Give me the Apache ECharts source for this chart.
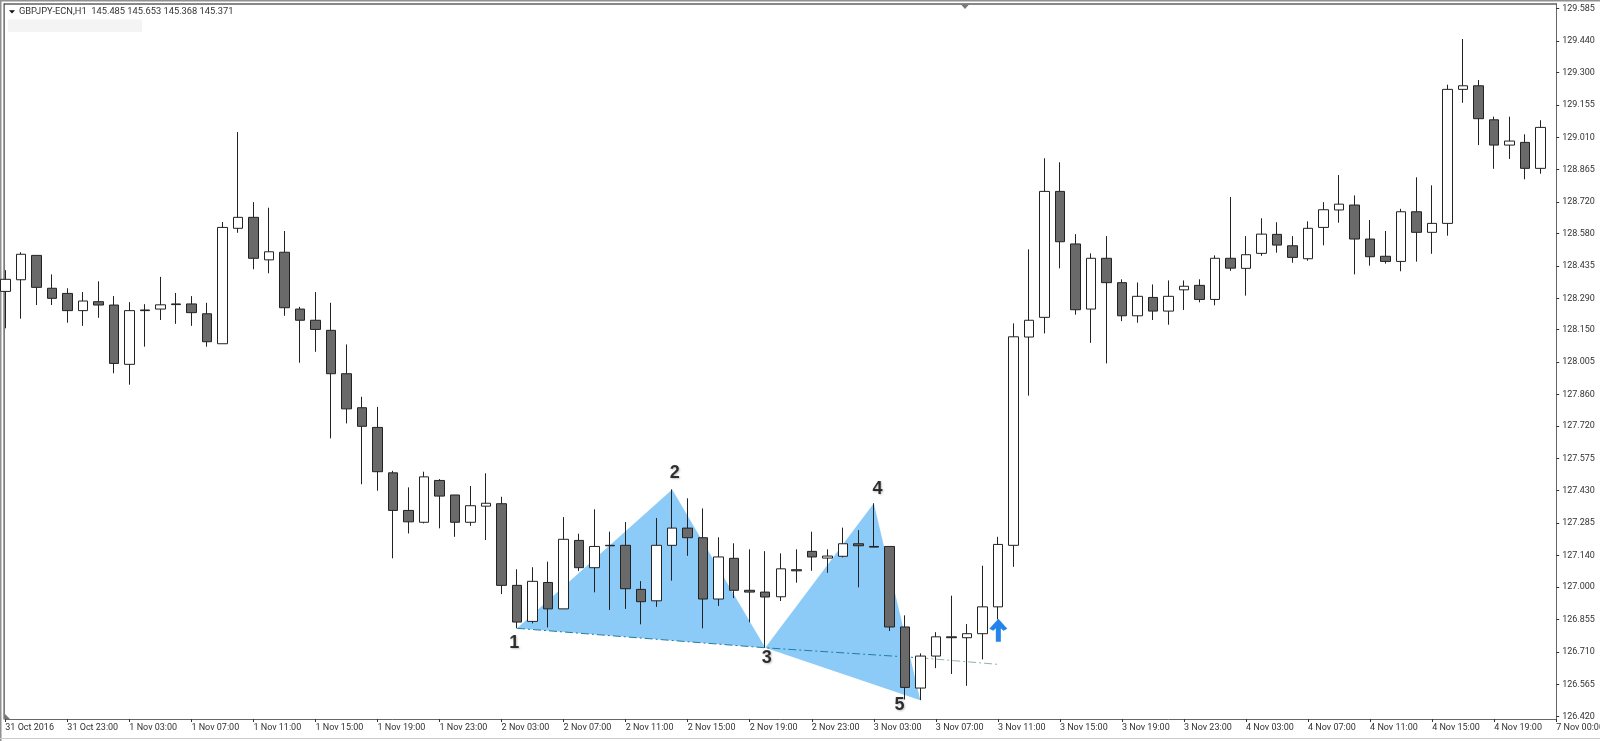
<!DOCTYPE html>
<html>
<head>
<meta charset="utf-8">
<style>html,body{margin:0;padding:0;background:#fff}#c{width:1600px;height:741px}</style>
<script src="https://cdn.jsdelivr.net/npm/echarts@6/dist/echarts.min.js"></script>
</head>
<body>
<div id="c"></div>
<script>
const tickLabels = ['31 Oct 2016','31 Oct 23:00','1 Nov 03:00','1 Nov 07:00','1 Nov 11:00','1 Nov 15:00','1 Nov 19:00','1 Nov 23:00','2 Nov 03:00','2 Nov 07:00','2 Nov 11:00','2 Nov 15:00','2 Nov 19:00','2 Nov 23:00','3 Nov 03:00','3 Nov 07:00','3 Nov 11:00','3 Nov 15:00','3 Nov 19:00','3 Nov 23:00','4 Nov 03:00','4 Nov 07:00','4 Nov 11:00','4 Nov 15:00','4 Nov 19:00','7 Nov 00:00'];
const priceTicks = [126.420,126.565,126.710,126.855,127.000,127.140,127.285,127.430,127.575,127.720,127.860,128.005,128.150,128.290,128.435,128.580,128.720,128.865,129.010,129.155,129.300,129.440,129.585];
const opens = [128.321,128.373,128.482,128.335,128.312,128.235,128.275,128.260,127.995,128.238,128.242,128.265,128.265,128.221,128.087,128.603,128.652,128.462,128.496,128.242,
128.192,128.147,127.953,127.801,127.713,127.510,127.342,127.289,127.476,127.411,127.289,127.361,127.372,127.007,126.846,127.020,126.902,127.208,127.086,127.186,
127.186,126.989,126.938,127.186,127.263,127.220,126.946,127.128,126.985,126.977,126.956,127.077,127.159,127.129,127.137,127.193,127.181,127.181,126.821,126.548,
126.691,126.777,126.773,126.791,126.911,127.186,128.117,128.205,128.768,128.533,128.242,128.469,128.360,128.212,128.294,128.233,128.328,128.348,128.285,128.469,
128.424,128.491,128.576,128.525,128.467,128.607,128.685,128.707,128.555,128.478,128.455,128.677,128.585,128.625,129.224,129.240,129.088,128.975,128.987,128.871];
const closes = [128.375,128.487,128.339,128.290,128.235,128.278,128.260,127.999,128.235,128.235,128.261,128.262,128.226,128.096,128.607,128.652,128.469,128.498,128.248,128.192,
128.151,127.953,127.796,127.718,127.515,127.342,127.291,127.492,127.406,127.289,127.363,127.374,127.007,126.843,127.025,126.902,127.213,127.086,127.181,127.184,
126.992,126.934,127.186,127.263,127.220,126.946,127.134,126.985,126.977,126.955,127.081,127.072,127.134,127.138,127.193,127.184,127.178,126.821,126.551,126.691,
126.777,126.773,126.791,126.911,127.190,128.118,128.192,128.768,128.543,128.239,128.469,128.360,128.212,128.299,128.233,128.299,128.344,128.285,128.469,128.425,
128.485,128.577,128.528,128.473,128.603,128.686,128.711,128.555,128.476,128.455,128.677,128.585,128.625,129.224,129.240,129.093,128.975,128.993,128.871,129.054];
const lows = [128.156,128.199,128.260,128.260,128.181,128.167,128.203,127.955,127.904,128.074,128.193,128.176,128.167,128.074,128.087,128.583,128.420,128.402,128.212,128.002,
128.051,127.664,127.731,127.459,127.430,127.128,127.239,127.284,127.262,127.224,127.273,127.210,126.968,126.815,126.837,126.819,126.902,127.071,126.976,126.897,
126.902,126.833,126.911,127.028,127.139,126.815,126.915,126.950,126.842,126.728,126.937,127.019,127.072,127.063,127.132,126.998,127.178,126.803,126.497,126.494,
126.637,126.611,126.558,126.676,126.855,127.090,127.855,128.133,128.424,128.217,128.091,127.999,128.188,128.181,128.193,128.172,128.238,128.272,128.259,128.413,
128.302,128.480,128.494,128.449,128.458,128.527,128.628,128.397,128.436,128.445,128.411,128.454,128.489,128.570,129.164,128.975,128.869,128.913,128.822,128.847];
const highs = [128.416,128.496,128.482,128.397,128.335,128.318,128.366,128.300,128.273,128.264,128.386,128.314,128.300,128.270,128.631,129.033,128.720,128.695,128.591,128.252,
128.318,128.270,128.084,127.850,127.805,127.519,127.445,127.515,127.482,127.411,127.451,127.508,127.403,127.079,127.088,127.113,127.312,127.238,127.347,127.247,
127.290,127.026,127.308,127.436,127.396,127.351,127.222,127.195,127.168,127.160,127.150,127.168,127.247,127.168,127.265,127.254,127.374,127.181,126.873,126.703,
126.798,126.961,126.834,127.095,127.224,128.178,128.509,128.916,128.898,128.577,128.491,128.568,128.375,128.361,128.352,128.370,128.370,128.375,128.482,128.743,
128.568,128.648,128.630,128.568,128.634,128.720,128.841,128.750,128.640,128.591,128.690,128.831,128.795,129.245,129.449,129.266,129.102,129.102,129.023,129.086];
const patternX = [33,43,49,56,59];
const patternY = [126.815,127.436,126.728,127.374,126.494];
const trendX = [33,49,59,64];
const trendY = [126.815,126.728,126.683,126.654];
const pointNames = ['1','2','3','4','5'];
const pointLabelX = [32.82,43.16,49.1,56.24,57.66];
const pointLabelY = [126.749,127.509,126.682,127.437,126.472];
const arrowX = [64.03];
const arrowY = [126.806];
const headerText = 'GBPJPY-ECN,H1  145.485 145.653 145.368 145.371';

const categories = Array.from({length: opens.length + 1}, (_, i) => String(i));
const candles = opens.map((o, i) => [o, closes[i], lows[i], highs[i]]);
const triangles = [[0,1,2],[2,3,4]].map(t => t.flatMap(k => [patternX[k], patternY[k]]));
const FONT = 'Roboto';
const chart = echarts.init(document.getElementById('c'), null, {renderer: 'canvas'});
chart.setOption({
  animation: false,
  backgroundColor: '#ffffff',
  title: {text: headerText, left: 19, top: 7, padding: 0, textStyle: {fontFamily: FONT, fontSize: 9.3, fontWeight: 'normal', color: '#333333', lineHeight: 10}},
  grid: {left: 5.3, right: 43.8, top: 4, bottom: 22, containLabel: false, outerBoundsMode: 'none'},
  xAxis: [{
    type: 'category', data: categories, boundaryGap: false, position: 'bottom',
    axisLine: {show: true, lineStyle: {color: '#666666', width: 1}},
    axisTick: {show: true, interval: 3, length: 3, inside: false, lineStyle: {color: '#333333'}},
    axisLabel: {show: true, interval: 3, align: 'left', margin: 4, showMinLabel: true, showMaxLabel: true, hideOverlap: false, fontFamily: FONT, fontSize: 9, color: '#333333',
      formatter: (v, i) => tickLabels[i / 4] || ''},
    splitLine: {show: false}
  }, {
    type: 'value', min: 0, max: 100, show: false, splitLine: {show: false}
  }],
  yAxis: {
    type: 'value', position: 'right', min: 126.4097, max: 129.6056, scale: true,
    axisLine: {show: true, onZero: false, lineStyle: {color: '#666666', width: 1}},
    axisTick: {show: true, length: 3, customValues: priceTicks, lineStyle: {color: '#333333'}},
    axisLabel: {show: true, margin: 6, customValues: priceTicks, fontFamily: FONT, fontSize: 9, color: '#333333', formatter: v => v.toFixed(3)},
    splitLine: {show: false}
  },
  series: [{
    type: 'custom', xAxisIndex: 1, yAxisIndex: 0, z: 1, silent: true, clip: true, data: triangles,
    encode: {x: [0,2,4], y: [1,3,5]},
    renderItem: (params, api) => {
      const pts = [0,2,4].map(k => api.coord([api.value(k), api.value(k + 1)]));
      return {type: 'polygon', shape: {points: pts}, style: {fill: '#8ccbf8', stroke: null}};
    }
  }, {
    type: 'line', xAxisIndex: 1, z: 2, symbol: 'none', silent: true,
    data: trendX.slice(0, 3).map((x, i) => [x, trendY[i]]),
    lineStyle: {color: '#1f7f9c', width: 1, type: [8, 3, 2, 3]}
  }, {
    type: 'line', xAxisIndex: 1, z: 2, symbol: 'none', silent: true,
    data: trendX.slice(2).map((x, i) => [x, trendY[i + 2]]),
    lineStyle: {color: '#8fb5aa', width: 1, type: [8, 3, 2, 3]}
  }, {
    type: 'candlestick', xAxisIndex: 0, z: 3, barWidth: 10, data: candles, clip: true,
    itemStyle: {color: '#ffffff', color0: '#6a6a6a', borderColor: '#222222', borderColor0: '#222222', borderWidth: 1}
  }, {
    type: 'scatter', xAxisIndex: 1, z: 4, silent: true, symbol: 'path://M9 0 L18 10 L14 12 L11.5 9.5 L11.5 23 L6.5 23 L6.5 9.5 L4 12 L0 10 Z',
    symbolSize: [18, 23], itemStyle: {color: '#2584ea', opacity: 1},
    data: arrowX.map((x, i) => [x, arrowY[i]])
  }, {
    type: 'scatter', xAxisIndex: 1, z: 5, silent: true, symbolSize: 0,
    data: pointNames.map((n, i) => ({name: n, value: [pointLabelX[i], pointLabelY[i]]})),
    label: {show: true, position: 'inside', formatter: p => p.name, fontFamily: 'Liberation Sans', fontWeight: 'bold', fontSize: 18, color: '#000000',
      textShadowColor: 'rgba(0,0,0,0.3)', textShadowBlur: 2, textShadowOffsetX: 1, textShadowOffsetY: 1}
  }],
  graphic: [
    {type: 'rect', shape: {x: 0, y: 0, width: 1600, height: 1.5}, style: {fill: '#909090'}, silent: true},
    {type: 'rect', shape: {x: 0, y: 0, width: 1.5, height: 741}, style: {fill: '#909090'}, silent: true},
    {type: 'rect', shape: {x: 0, y: 738, width: 1600, height: 1}, style: {fill: '#cccccc'}, silent: true},
    {type: 'rect', shape: {x: 4, y: 3.5, width: 1553, height: 1}, style: {fill: '#111111'}, silent: true},
    {type: 'rect', shape: {x: 3.5, y: 3.5, width: 1.2, height: 716}, style: {fill: '#444444'}, silent: true},
    {type: 'rect', shape: {x: 8, y: 19.5, width: 134, height: 12.5}, style: {fill: '#f4f4f4'}, silent: true},
    {type: 'polygon', shape: {points: [[9, 10.3], [15, 10.3], [12, 13.5]]}, style: {fill: '#111111'}, silent: true},
    {type: 'polygon', shape: {points: [[961, 4.5], [969, 4.5], [965, 9]]}, style: {fill: '#777777'}, silent: true},
    {type: 'polygon', shape: {points: [[5, 714], [5, 719], [10, 719]]}, style: {fill: '#777777'}, silent: true}
  ]
});
</script>
</body>
</html>
